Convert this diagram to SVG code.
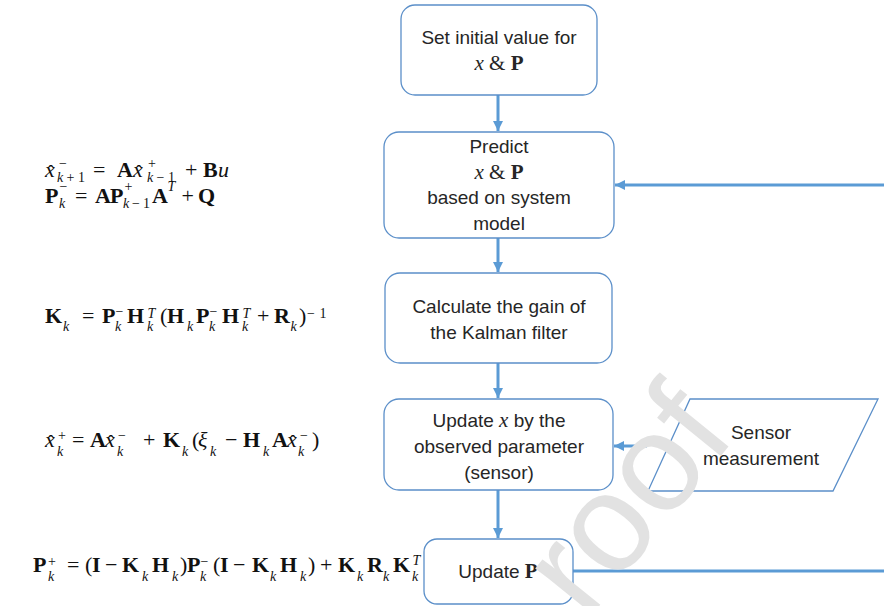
<svg xmlns="http://www.w3.org/2000/svg" width="884" height="606" viewBox="0 0 884 606">
  <defs>
    <style>
      .box { fill: #ffffff; stroke: #5b8fc9; stroke-width: 1.3; }
      .link { fill: none; stroke: #5b9bd5; stroke-width: 3; }
      .lbl { font-family: "Liberation Sans", Arial, sans-serif; font-size: 19px; fill: #262626; text-anchor: middle; }
      .m { font-family: "Liberation Serif", "Times New Roman", serif; font-size: 21px; }
      .eq { font-family: "Liberation Serif", "Times New Roman", serif; font-size: 22px; fill: #111111; }
      .b { font-weight: bold; }
      .i { font-style: italic; }
      .s { font-size: 14px; }
      .hat { font-size: 20px; }
      .wm { font-family: "Liberation Sans", Arial, sans-serif; font-size: 139px; fill: #e2e2e2; text-anchor: middle; }
    </style>
    <marker id="arrow" viewBox="0 0 10 10" refX="10" refY="5" markerWidth="10" markerHeight="10" markerUnits="userSpaceOnUse" orient="auto">
      <path d="M0,0 L10,5 L0,10 z" fill="#5b9bd5"/>
    </marker>
  </defs>

  <!-- flow connectors -->
  <g id="connectors">
    <line class="link" x1="498" y1="95" x2="498" y2="131" marker-end="url(#arrow)"/>
    <line class="link" x1="498" y1="238" x2="498" y2="272" marker-end="url(#arrow)"/>
    <line class="link" x1="498" y1="363" x2="498" y2="398" marker-end="url(#arrow)"/>
    <line class="link" x1="498" y1="490" x2="498" y2="538" marker-end="url(#arrow)"/>
    <line class="link" x1="647" y1="446" x2="614" y2="446" marker-end="url(#arrow)"/>
    <line class="link" x1="884" y1="185" x2="615" y2="185" marker-end="url(#arrow)"/>
    <line class="link" x1="573" y1="571" x2="884" y2="571"/>
  </g>

  <g id="init">
    <rect class="box" x="401" y="5" width="196" height="90" rx="14"/>
    <text class="lbl" x="499" y="44">Set initial value for</text>
    <text class="lbl m" x="499" y="70"><tspan class="i">x</tspan> &amp; <tspan class="b">P</tspan></text>
  </g>

  <g id="predict">
    <rect class="box" x="384" y="132" width="230" height="106" rx="15"/>
    <text class="lbl" x="499" y="153">Predict</text>
    <text class="lbl m" x="499" y="179"><tspan class="i">x</tspan> &amp; <tspan class="b">P</tspan></text>
    <text class="lbl" x="499" y="204">based on system</text>
    <text class="lbl" x="499" y="230">model</text>
  </g>

  <g id="gain">
    <rect class="box" x="385" y="273" width="227" height="90" rx="15"/>
    <text class="lbl" x="499" y="313">Calculate the gain of</text>
    <text class="lbl" x="499" y="339">the Kalman filter</text>
  </g>

  <g id="update-x">
    <rect class="box" x="384" y="399" width="229" height="91" rx="15"/>
    <text class="lbl" x="499" y="427">Update <tspan class="m i">x</tspan> by the</text>
    <text class="lbl" x="499" y="453">observed parameter</text>
    <text class="lbl" x="499" y="479">(sensor)</text>
  </g>

  <g id="sensor">
    <polygon class="box" points="690,399 878,399 833,491 648,491"/>
    <text class="lbl" x="761" y="439">Sensor</text>
    <text class="lbl" x="761" y="465">measurement</text>
  </g>

  <g id="update-p">
    <rect class="box" x="424" y="539" width="149" height="65" rx="13"/>
    <text class="lbl" x="498" y="578">Update <tspan class="m b">P</tspan></text>
  </g>

  <!-- prediction equations -->
  <g id="eq-predict">
    <text class="eq"><tspan class="i" x="45" y="177">x</tspan><tspan class="hat" x="47.5" y="180">ˆ</tspan><tspan class="s" x="59" y="168">−</tspan><tspan class="s i" x="57" y="182">k</tspan><tspan class="s" x="66.5" y="182">+</tspan><tspan class="s" x="78" y="182">1</tspan><tspan x="93" y="177">=</tspan><tspan class="b" x="117" y="177">A</tspan><tspan class="i" x="133" y="177">x</tspan><tspan class="hat" x="135.5" y="180">ˆ</tspan><tspan class="s" x="148" y="168">+</tspan><tspan class="s i" x="147" y="182">k</tspan><tspan class="s" x="156.5" y="182">−</tspan><tspan class="s" x="168" y="182">1</tspan><tspan x="185" y="177">+</tspan><tspan class="b" x="203" y="177">B</tspan><tspan class="i" x="218" y="177">u</tspan></text>
    <text class="eq"><tspan class="b" x="45" y="203">P</tspan><tspan class="s" x="59.5" y="191">−</tspan><tspan class="s i" x="59" y="208">k</tspan><tspan x="75" y="203">=</tspan><tspan class="b" x="95" y="203">A</tspan><tspan class="b" x="110" y="203">P</tspan><tspan class="s" x="124.5" y="191">+</tspan><tspan class="s i" x="123" y="208">k</tspan><tspan class="s" x="132" y="208">−</tspan><tspan class="s" x="143" y="208">1</tspan><tspan class="b" x="152" y="203">A</tspan><tspan class="s i" x="167.5" y="191">T</tspan><tspan x="181.5" y="203">+</tspan><tspan class="b" x="198" y="203">Q</tspan></text>
  </g>

  <!-- Kalman gain -->
  <g id="eq-gain">
    <text class="eq"><tspan class="b" x="45" y="323">K</tspan><tspan class="s i" x="63" y="331">k</tspan><tspan x="82" y="323">=</tspan><tspan class="b" x="102" y="323">P</tspan><tspan class="s" x="115.5" y="316">−</tspan><tspan class="s i" x="115" y="331">k</tspan><tspan class="b" x="127" y="323">H</tspan><tspan class="s i" x="147.5" y="318">T</tspan><tspan class="s i" x="147" y="331">k</tspan><tspan x="160" y="323">(</tspan><tspan class="b" x="167" y="323">H</tspan><tspan class="s i" x="187" y="331">k</tspan><tspan class="b" x="196" y="323">P</tspan><tspan class="s" x="209.5" y="316">−</tspan><tspan class="s i" x="209" y="331">k</tspan><tspan class="b" x="222" y="323">H</tspan><tspan class="s i" x="242.5" y="318">T</tspan><tspan class="s i" x="242" y="331">k</tspan><tspan x="257" y="323">+</tspan><tspan class="b" x="274" y="323">R</tspan><tspan class="s i" x="290.5" y="331">k</tspan><tspan x="299" y="323">)</tspan><tspan class="s" x="307" y="318">−</tspan><tspan class="s" x="319.5" y="318">1</tspan></text>
  </g>

  <!-- state update -->
  <g id="eq-state">
    <text class="eq"><tspan class="i" x="45" y="447">x</tspan><tspan class="hat" x="47.5" y="450">ˆ</tspan><tspan class="s" x="58" y="440">+</tspan><tspan class="s i" x="57" y="456">k</tspan><tspan x="72" y="447">=</tspan><tspan class="b" x="90" y="447">A</tspan><tspan class="i" x="105" y="447">x</tspan><tspan class="hat" x="107.5" y="450">ˆ</tspan><tspan class="s" x="118" y="440">−</tspan><tspan class="s i" x="117" y="456">k</tspan><tspan x="143" y="447">+</tspan><tspan class="b" x="163" y="447">K</tspan><tspan class="s i" x="182" y="456">k</tspan><tspan x="192" y="447">(</tspan><tspan class="i" x="198" y="447">ξ</tspan><tspan class="s i" x="210" y="456">k</tspan><tspan x="225" y="447">−</tspan><tspan class="b" x="243" y="447">H</tspan><tspan class="s i" x="263" y="456">k</tspan><tspan class="b" x="272" y="447">A</tspan><tspan class="i" x="287" y="447">x</tspan><tspan class="hat" x="289.5" y="450">ˆ</tspan><tspan class="s" x="300" y="440">−</tspan><tspan class="s i" x="298" y="456">k</tspan><tspan x="312" y="447">)</tspan></text>
  </g>

  <!-- covariance update -->
  <g id="eq-cov">
    <text class="eq"><tspan class="b" x="33" y="572">P</tspan><tspan class="s" x="48" y="566">+</tspan><tspan class="s i" x="48" y="581">k</tspan><tspan x="67" y="572">=</tspan><tspan x="85" y="572">(</tspan><tspan class="b" x="92" y="572">I</tspan><tspan x="105" y="572">−</tspan><tspan class="b" x="122" y="572">K</tspan><tspan class="s i" x="142" y="581">k</tspan><tspan class="b" x="152" y="572">H</tspan><tspan class="s i" x="172" y="581">k</tspan><tspan x="180" y="572">)</tspan><tspan class="b" x="187" y="572">P</tspan><tspan class="s" x="200.5" y="566">−</tspan><tspan class="s i" x="200" y="581">k</tspan><tspan x="213" y="572">(</tspan><tspan class="b" x="220" y="572">I</tspan><tspan x="233" y="572">−</tspan><tspan class="b" x="252" y="572">K</tspan><tspan class="s i" x="270" y="581">k</tspan><tspan class="b" x="280" y="572">H</tspan><tspan class="s i" x="300" y="581">k</tspan><tspan x="308" y="572">)</tspan><tspan x="320" y="572">+</tspan><tspan class="b" x="338" y="572">K</tspan><tspan class="s i" x="357" y="581">k</tspan><tspan class="b" x="367" y="572">R</tspan><tspan class="s i" x="383" y="581">k</tspan><tspan class="b" x="393" y="572">K</tspan><tspan class="s i" x="412.5" y="565">T</tspan><tspan class="s i" x="412" y="581">k</tspan></text>
  </g>

  <!-- watermark -->
  <text class="wm" transform="translate(634,506) rotate(-51)" x="0" y="36">roof</text>
</svg>
